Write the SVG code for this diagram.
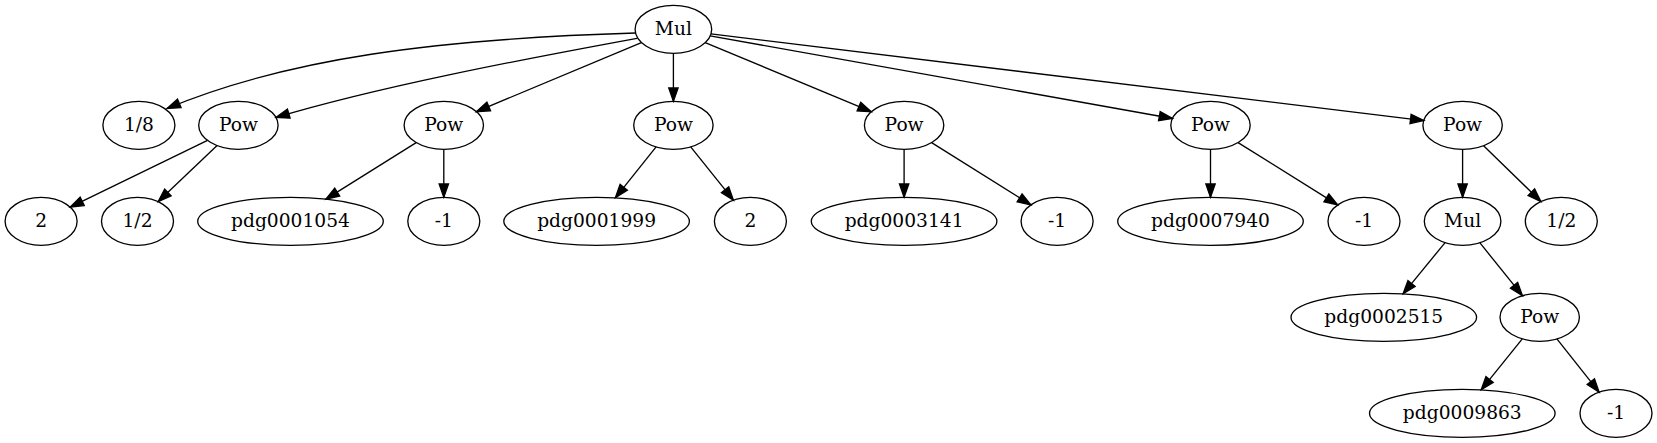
<svg xmlns="http://www.w3.org/2000/svg" width="1657" height="443" viewBox="0 0 1657 443">
<style>
.n ellipse{fill:none;stroke:#000;stroke-width:1.33}
.n text{font-family:"DejaVu Serif","Liberation Serif",serif;font-size:18.67px;text-anchor:middle;fill:#000}
#edges path{fill:none;stroke:#000;stroke-width:1.33;marker-end:url(#ah)}
</style>
<defs>
<marker id="ah" markerUnits="userSpaceOnUse" markerWidth="16" markerHeight="12" refX="13.33" refY="4.67" orient="auto" overflow="visible">
<path d="M0,0 L13.33,4.67 L0,9.33 z" fill="#000" stroke="#000" stroke-width="1.33"/>
</marker>
</defs>
<rect width="1657" height="443" fill="#fff"/>
<g id="edges">
<path d="M635.5,33 C435.5,39 287,58.5 167,108.5"/>
<path d="M637,38.3 C517,60.3 376,87.5 276,117.5"/>
<path d="M641.4,42.6 L476.4,111.6"/>
<path d="M673.4,53.3 L673.4,101.3"/>
<path d="M705.2,42.6 L871.2,111.7"/>
<path d="M710.1,35.9 L1172.5,118.5"/>
<path d="M710.9,33.9 L1423.8,120.6"/>
<path d="M207.5,140.3 L70.2,207.2"/>
<path d="M217.1,145.6 L158.2,201.6"/>
<path d="M416.2,142.6 L325.9,199.1"/>
<path d="M443.8,149.3 L443.8,197.3"/>
<path d="M656.1,146.9 L615.4,197.8"/>
<path d="M690.7,146.9 L733.4,200.1"/>
<path d="M904.1,149.3 L904.1,197.3"/>
<path d="M931.6,142.6 L1030.9,204.9"/>
<path d="M1210.5,149.3 L1210.5,197.3"/>
<path d="M1238.1,142.6 L1337.7,204.9"/>
<path d="M1462.6,149.3 L1462.6,197.3"/>
<path d="M1483.6,145.7 L1540.9,201.5"/>
<path d="M1445.1,242.6 L1403.1,293.8"/>
<path d="M1479.8,242.7 L1522.4,295.7"/>
<path d="M1522.3,338.9 L1481.2,389.8"/>
<path d="M1556.9,338.9 L1599.1,392.1"/>
</g>
<g id="mul0" class="n"><ellipse cx="673.4" cy="29.3" rx="38.3" ry="24"/><text x="673.4" y="34.9">Mul</text></g>
<g id="c18" class="n"><ellipse cx="138.9" cy="125.3" rx="36" ry="24"/><text x="138.9" y="130.9">1/8</text></g>
<g id="pow1" class="n"><ellipse cx="238.4" cy="125.3" rx="39.7" ry="24"/><text x="238.4" y="130.9">Pow</text></g>
<g id="pow2" class="n"><ellipse cx="443.8" cy="125.3" rx="39.7" ry="24"/><text x="443.8" y="130.9">Pow</text></g>
<g id="pow3" class="n"><ellipse cx="673.4" cy="125.3" rx="39.7" ry="24"/><text x="673.4" y="130.9">Pow</text></g>
<g id="pow4" class="n"><ellipse cx="904.1" cy="125.3" rx="39.7" ry="24"/><text x="904.1" y="130.9">Pow</text></g>
<g id="pow5" class="n"><ellipse cx="1210.5" cy="125.3" rx="39.7" ry="24"/><text x="1210.5" y="130.9">Pow</text></g>
<g id="pow6" class="n"><ellipse cx="1462.6" cy="125.3" rx="39.7" ry="24"/><text x="1462.6" y="130.9">Pow</text></g>
<g id="two1" class="n"><ellipse cx="41.1" cy="221.3" rx="36" ry="24"/><text x="41.1" y="226.9">2</text></g>
<g id="half1" class="n"><ellipse cx="137.5" cy="221.3" rx="36" ry="24"/><text x="137.5" y="226.9">1/2</text></g>
<g id="pdg0001054" class="n"><ellipse cx="290.5" cy="221.3" rx="92.8" ry="24"/><text x="290.5" y="226.9">pdg0001054</text></g>
<g id="neg1a" class="n"><ellipse cx="443.8" cy="221.3" rx="36" ry="24"/><text x="443.8" y="226.9">-1</text></g>
<g id="pdg0001999" class="n"><ellipse cx="596.6" cy="221.3" rx="92.8" ry="24"/><text x="596.6" y="226.9">pdg0001999</text></g>
<g id="two2" class="n"><ellipse cx="750.4" cy="221.3" rx="36" ry="24"/><text x="750.4" y="226.9">2</text></g>
<g id="pdg0003141" class="n"><ellipse cx="904.1" cy="221.3" rx="92.8" ry="24"/><text x="904.1" y="226.9">pdg0003141</text></g>
<g id="neg1b" class="n"><ellipse cx="1057.1" cy="221.3" rx="36" ry="24"/><text x="1057.1" y="226.9">-1</text></g>
<g id="pdg0007940" class="n"><ellipse cx="1210.5" cy="221.3" rx="92.8" ry="24"/><text x="1210.5" y="226.9">pdg0007940</text></g>
<g id="neg1c" class="n"><ellipse cx="1364" cy="221.3" rx="36" ry="24"/><text x="1364" y="226.9">-1</text></g>
<g id="mul2" class="n"><ellipse cx="1462.6" cy="221.3" rx="38.3" ry="24"/><text x="1462.6" y="226.9">Mul</text></g>
<g id="half2" class="n"><ellipse cx="1561.3" cy="221.3" rx="36" ry="24"/><text x="1561.3" y="226.9">1/2</text></g>
<g id="pdg0002515" class="n"><ellipse cx="1383.8" cy="317.3" rx="92.8" ry="24"/><text x="1383.8" y="322.9">pdg0002515</text></g>
<g id="pow7" class="n"><ellipse cx="1539.7" cy="317.3" rx="39.7" ry="24"/><text x="1539.7" y="322.9">Pow</text></g>
<g id="pdg0009863" class="n"><ellipse cx="1462.3" cy="413.3" rx="92.8" ry="24"/><text x="1462.3" y="418.9">pdg0009863</text></g>
<g id="neg1d" class="n"><ellipse cx="1616" cy="413.3" rx="36" ry="24"/><text x="1616" y="418.9">-1</text></g>
</svg>
